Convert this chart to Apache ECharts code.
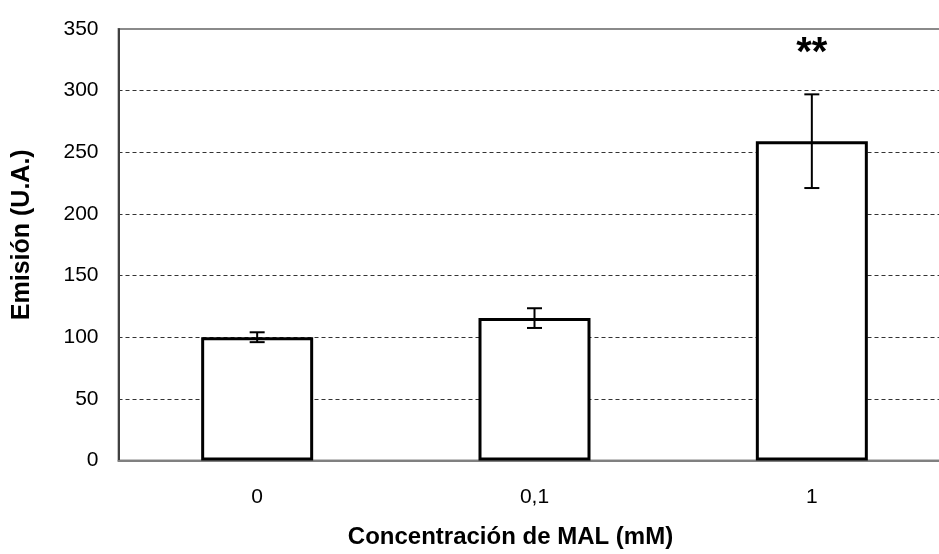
<!DOCTYPE html>
<html>
<head>
<meta charset="utf-8">
<script src="https://cdn.jsdelivr.net/npm/echarts@6/dist/echarts.min.js"></script>
<style>
  html, body { margin: 0; padding: 0; background: #ffffff; }
  #chart { width: 939px; height: 554px; }
</style>
</head>
<body>
<div id="chart"></div>
<script>
// Concentration categories (mM) and mean emission with its error
const categories = ['0', '0,1', '1'];
const emission = [100, 115.5, 259];
const errors = [4, 8, 38];
const significance = ['', '', '**'];
const yTicks = [0, 50, 100, 150, 200, 250, 300, 350];

const FONT = 'Liberation Sans, Arial, sans-serif';

const chart = echarts.init(document.getElementById('chart'));

const errorData = categories.map((c, i) => [i, emission[i] - errors[i], emission[i] + errors[i]]);

chart.setOption({
  backgroundColor: '#ffffff',
  animation: false,
  grid: {
    left: 118.5,
    top: 29,
    width: 832,
    bottom: 93.5,
    outerBoundsMode: 'none',
    containLabel: false,
    show: true,
    borderColor: '#8a8a8a',
    borderWidth: 2,
    backgroundColor: 'transparent'
  },
  xAxis: {
    type: 'category',
    data: categories,
    axisLine: { show: true, lineStyle: { color: '#808080', width: 2 } },
    axisTick: { show: false },
    axisLabel: { color: '#000', fontFamily: FONT, fontSize: 21, margin: 26 },
    name: 'Concentración de MAL (mM)',
    nameLocation: 'middle',
    nameGap: 65,
    nameTextStyle: { color: '#000', fontFamily: FONT, fontSize: 24, fontWeight: 'bold', padding: [0, 48, 0, 0] }
  },
  yAxis: {
    type: 'value',
    min: yTicks[0],
    max: yTicks[yTicks.length - 1],
    interval: 50,
    axisLine: { show: true, lineStyle: { color: '#404040', width: 2 } },
    axisTick: { show: false },
    axisLabel: { color: '#000', fontFamily: FONT, fontSize: 21, margin: 20 },
    splitLine: {
      show: true,
      showMinLine: false,
      showMaxLine: false,
      lineStyle: { color: '#333', width: 1, type: [4, 3] }
    },
    name: 'Emisión (U.A.)',
    nameLocation: 'middle',
    nameGap: 84,
    nameRotate: 90,
    nameTextStyle: { color: '#000', fontFamily: FONT, fontSize: 25, fontWeight: 'bold', padding: [0, 0, 0, 20] }
  },
  series: [
    {
      type: 'bar',
      data: emission,
      barWidth: 112,
      itemStyle: { color: '#ffffff', borderColor: '#000000', borderWidth: 3 },
      z: 3
    },
    {
      type: 'custom',
      data: errorData,
      z: 4,
      renderItem: function (params, api) {
        const x = api.value(0);
        const lo = api.coord([x, api.value(1)]);
        const hi = api.coord([x, api.value(2)]);
        const cap = 7.5;
        const style = { stroke: '#000', lineWidth: 2 };
        const children = [
          { type: 'line', shape: { x1: lo[0], y1: lo[1], x2: hi[0], y2: hi[1] }, style },
          { type: 'line', shape: { x1: lo[0] - cap, y1: lo[1], x2: lo[0] + cap, y2: lo[1] }, style },
          { type: 'line', shape: { x1: hi[0] - cap, y1: hi[1], x2: hi[0] + cap, y2: hi[1] }, style }
        ];
        const mark = significance[params.dataIndex];
        if (mark) {
          children.push({
            type: 'text',
            style: {
              text: mark,
              x: hi[0],
              y: hi[1] - 40,
              align: 'center',
              verticalAlign: 'middle',
              fill: '#000',
              font: 'bold 40px "Liberation Sans", Arial, sans-serif'
            }
          });
        }
        return { type: 'group', children };
      }
    }
  ]
});
</script>
</body>
</html>
